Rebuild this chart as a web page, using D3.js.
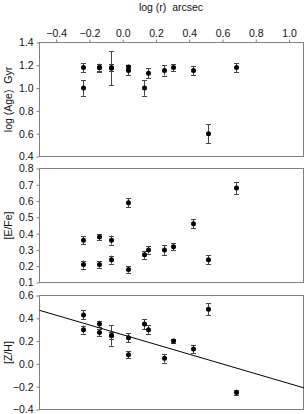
<!DOCTYPE html>
<html lang="en">
<head>
<meta charset="UTF-8">
<title>Age, E/Fe, Z/H vs radius</title>
<script src="https://d3js.org/d3.v7.min.js"></script>
<style>
body { margin: 0; background: #fff; }
svg text { font-family: "Liberation Sans", Arial, sans-serif; font-size: 10.5px; fill: #111; white-space: pre; }
.frame { fill: none; stroke: #808080; stroke-width: 1; }
.err { stroke: #444; stroke-width: 1; }
.dot { fill: #000; }
</style>
</head>
<body>
<svg width="305" height="414"></svg>
<script>
// top panel: log(Age) Gyr
const ageR   = [-0.24, -0.24, -0.14, -0.14, -0.07, -0.07, 0.03, 0.03, 0.13, 0.15, 0.25, 0.30, 0.42, 0.51, 0.68];
const ageVal = [1.18, 1.00, 1.18, 1.18, 1.175, 1.18, 1.185, 1.155, 1.00, 1.13, 1.155, 1.18, 1.155, 0.60, 1.18];
const ageErr = [0.04, 0.067, 0.035, 0.03, 0.15, 0.03, 0.02, 0.04, 0.067, 0.045, 0.045, 0.03, 0.04, 0.083, 0.04];

// middle panel: [E/Fe]
const efeR   = [-0.24, -0.24, -0.14, -0.14, -0.07, -0.07, 0.03, 0.03, 0.13, 0.15, 0.25, 0.30, 0.42, 0.51, 0.68];
const efeVal = [0.36, 0.21, 0.38, 0.21, 0.36, 0.24, 0.59, 0.18, 0.27, 0.30, 0.30, 0.32, 0.46, 0.24, 0.68];
const efeErr = [0.025, 0.025, 0.018, 0.02, 0.028, 0.025, 0.027, 0.02, 0.025, 0.023, 0.03, 0.023, 0.028, 0.027, 0.038];

// bottom panel: [Z/H]
const zhR   = [-0.24, -0.24, -0.14, -0.14, -0.07, -0.07, 0.03, 0.03, 0.13, 0.15, 0.25, 0.30, 0.42, 0.51, 0.68];
const zhVal = [0.43, 0.30, 0.35, 0.275, 0.25, 0.25, 0.23, 0.08, 0.35, 0.30, 0.05, 0.20, 0.13, 0.48, -0.25];
const zhErr = [0.04, 0.035, 0.03, 0.03, 0.09, 0.03, 0.04, 0.03, 0.045, 0.04, 0.038, 0.02, 0.038, 0.052, 0.025];

// linear fit drawn in the [Z/H] panel
const fitIntercept = 0.256;
const fitSlope = -0.428;

const xTicks = [-0.4, -0.2, 0.0, 0.2, 0.4, 0.6, 0.8, 1.0];
const ageTicks = [0.4, 0.6, 0.8, 1.0, 1.2, 1.4];
const efeTicks = [0.1, 0.2, 0.3, 0.4, 0.5, 0.6, 0.7, 0.8];
const zhTicks = [-0.4, -0.2, 0.0, 0.2, 0.4, 0.6];

const svg = d3.select("svg");
const left = 39.5, right = 303.5;

const x = d3.scaleLinear().domain([-0.5, 1.09]).range([left, right + 0.5]);

const panels = [
    { label: "log (Age)  Gyr", r: ageR, v: ageVal, e: ageErr, dom: [0.4, 1.4], top: 42.5, bottom: 156.5, ticks: ageTicks },
    { label: "[E/Fe]", r: efeR, v: efeVal, e: efeErr, dom: [0.1, 0.8], top: 168.5, bottom: 282.5, ticks: efeTicks },
    { label: "[Z/H]", r: zhR, v: zhVal, e: zhErr, dom: [-0.4, 0.6], top: 295.5, bottom: 409.5, ticks: zhTicks, fit: true }
];

// top axis + title
svg.append("text")
    .attr("x", 171).attr("y", 11)
    .attr("text-anchor", "middle")
    .text("log (r)  arcsec");

const xAxis = svg.append("g")
    .attr("transform", `translate(0,${panels[0].top})`)
    .call(d3.axisTop(x).tickValues(xTicks).tickSize(3).tickPadding(3).tickFormat(d3.format(".1f")));
xAxis.select(".domain").remove();
xAxis.selectAll("line").attr("stroke", "#808080");
xAxis.selectAll("text").attr("font-size", null).attr("font-family", null).attr("fill", null);

panels.forEach(p => {
    const y = d3.scaleLinear().domain(p.dom).range([p.bottom, p.top]);
    const g = svg.append("g");

    const yAxis = g.append("g")
        .attr("transform", `translate(${left},0)`)
        .call(d3.axisLeft(y).tickValues(p.ticks).tickSize(3).tickPadding(3).tickFormat(d3.format(".1f")));
    yAxis.select(".domain").remove();
    yAxis.selectAll("line").attr("stroke", "#808080");
    yAxis.selectAll("text").attr("font-size", null).attr("font-family", null).attr("fill", null);

    g.append("rect").attr("class", "frame")
        .attr("x", left).attr("y", p.top)
        .attr("width", right - left).attr("height", p.bottom - p.top);

    // y label
    g.append("text")
        .attr("transform", `translate(12,${(p.top + p.bottom) / 2}) rotate(-90)`)
        .attr("text-anchor", "middle")
        .text(p.label);

    const pts = p.r.map((r, i) => ({ r: r, v: p.v[i], e: p.e[i] }));
    const px = d => Math.round(x(d.r));

    // error bars
    const eb = g.selectAll(".eb").data(pts).enter().append("g").attr("class", "eb");
    eb.append("line").attr("class", "err")
        .attr("x1", d => px(d) + 0.5).attr("x2", d => px(d) + 0.5)
        .attr("y1", d => y(d.v + d.e)).attr("y2", d => y(d.v - d.e));
    eb.append("line").attr("class", "err")
        .attr("x1", d => px(d) - 2).attr("x2", d => px(d) + 3)
        .attr("y1", d => Math.round(y(d.v + d.e)) + 0.5).attr("y2", d => Math.round(y(d.v + d.e)) + 0.5);
    eb.append("line").attr("class", "err")
        .attr("x1", d => px(d) - 2).attr("x2", d => px(d) + 3)
        .attr("y1", d => Math.round(y(d.v - d.e)) + 0.5).attr("y2", d => Math.round(y(d.v - d.e)) + 0.5);

    g.selectAll(".dot").data(pts).enter().append("circle")
        .attr("class", "dot")
        .attr("cx", d => px(d) + 0.5)
        .attr("cy", d => y(d.v))
        .attr("r", 2.5);

    if (p.fit) {
        const xd = x.domain();
        g.append("line")
            .attr("x1", x(xd[0])).attr("y1", y(fitIntercept + fitSlope * xd[0]))
            .attr("x2", x(xd[1])).attr("y2", y(fitIntercept + fitSlope * xd[1]))
            .attr("stroke", "#000").attr("stroke-width", 1);
    }
});
</script>
</body>
</html>
